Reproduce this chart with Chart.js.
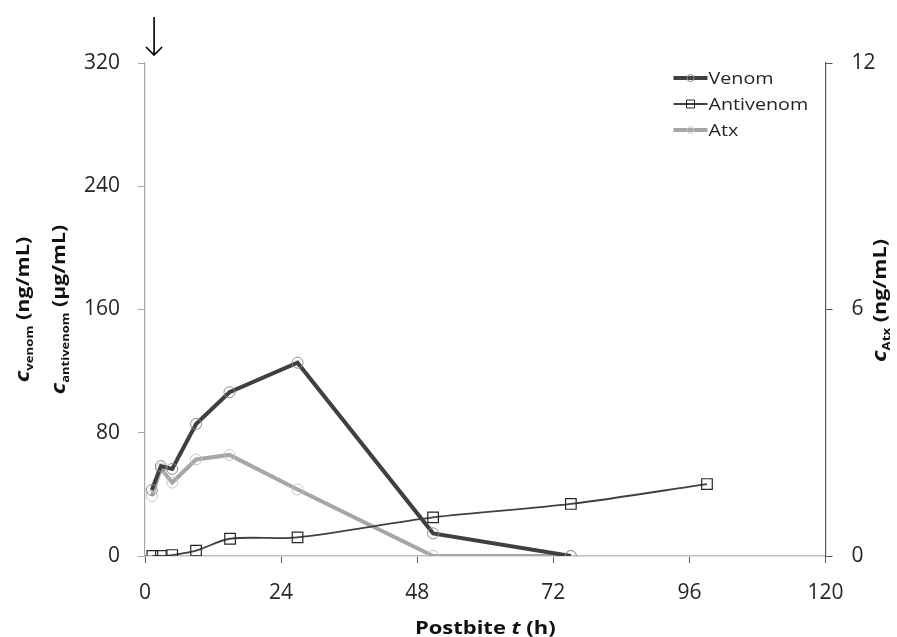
<!DOCTYPE html>
<html>
<head>
<meta charset="utf-8">
<script src="https://cdn.jsdelivr.net/npm/chart.js@4.4.1/dist/chart.umd.min.js"></script>
<style>
  html, body { margin: 0; padding: 0; background: #fff; }
  #wrap { width: 897px; height: 637px; }
</style>
</head>
<body>
<div id="wrap"><canvas id="chart" width="897" height="637"></canvas></div>
<script>
// Venom and Atx were sampled at the same times (h)
const sampleTimes = [1.2, 2.8, 4.8, 9.0, 14.9, 26.9, 50.8, 75.1];
const venomValues = [42.8, 58.4, 56.5, 85.7, 106.3, 125.5, 14.7, 0];
const atxValues = [1.46, 2.13, 1.79, 2.35, 2.46, 1.62, 0, 0];

// Antivenom
const antivenomTimes = [1.3, 2.8, 4.8, 9.0, 15.0, 26.9, 50.8, 75.1, 99.1];
const antivenomValues = [0, 0, 0.6, 3.5, 11.2, 12.1, 25.1, 33.8, 46.7];

// Axis ticks
const xTicks = [0, 24, 48, 72, 96, 120];
const leftTicks = [0, 80, 160, 240, 320];
const rightTicks = [0, 6, 12];

// time of the arrow on top of the chart
const arrowTime = 1.6;

const FONT = '"Open Sans", "Noto Sans", sans-serif';
const TEXT_COLOR = '#262626';

function pairs(xs, ys) {
    return xs.map((x, i) => ({ x: x, y: ys[i] }));
}

// draws text made of parts [text, font, shift] centred on 0, stretched along the text
function drawRich(ctx, parts, stretch) {
    let total = 0;
    parts.forEach(p => { ctx.font = p[1]; total += ctx.measureText(p[0]).width; });
    ctx.scale(stretch, 1);
    let x = -total / 2;
    parts.forEach(p => {
        ctx.font = p[1];
        ctx.fillText(p[0], x, p[2]);
        x += ctx.measureText(p[0]).width;
    });
}

const big = 'bold 18px ' + FONT;
const cFont = 'italic bold 20px ' + FONT;
const sub = 'bold 11px ' + FONT;

const extrasPlugin = {
    id: 'extras',
    afterDraw(chart) {
        const ctx = chart.ctx;
        const area = chart.chartArea;
        const xs = chart.scales.x;
        const midY = (area.top + area.bottom) / 2;
        ctx.save();
        ctx.fillStyle = '#111';
        ctx.textBaseline = 'alphabetic';

        // x title
        ctx.save();
        ctx.translate((area.left + area.right) / 2, chart.height - 3);
        drawRich(ctx, [['Postbite ', big, 0], ['t', 'italic ' + big, 0], [' (h)', big, 0]], 1.22);
        ctx.restore();

        // left titles (two lines)
        ctx.save();
        ctx.translate(29, midY);
        ctx.rotate(-Math.PI / 2);
        drawRich(ctx, [['c', cFont, 0], ['venom', sub, 4], [' (ng/mL)', big, 0]], 1.2);
        ctx.restore();

        ctx.save();
        ctx.translate(65, midY);
        ctx.rotate(-Math.PI / 2);
        drawRich(ctx, [['c', cFont, 0], ['antivenom', sub, 4], [' (\u00b5g/mL)', big, 0]], 1.18);
        ctx.restore();

        // right title
        ctx.save();
        ctx.translate(886, midY - 9);
        ctx.rotate(-Math.PI / 2);
        drawRich(ctx, [['c', cFont, 0], ['Atx', sub, 4], [' (ng/mL)', big, 0]], 1.2);
        ctx.restore();

        // arrow
        const ax = xs.getPixelForValue(arrowTime);
        ctx.strokeStyle = '#000';
        ctx.lineWidth = 1.6;
        ctx.beginPath();
        ctx.moveTo(ax, area.top - 46);
        ctx.lineTo(ax, area.top - 8);
        ctx.moveTo(ax - 8, area.top - 16);
        ctx.lineTo(ax, area.top - 8);
        ctx.lineTo(ax + 8, area.top - 16);
        ctx.stroke();

        // legend
        const lx = area.right - 152;
        let ly = area.top + 15;
        chart.data.datasets.forEach(ds => {
            ctx.strokeStyle = ds.borderColor;
            ctx.lineWidth = ds.borderWidth;
            ctx.beginPath();
            ctx.moveTo(lx, ly);
            ctx.lineTo(lx + 34, ly);
            ctx.stroke();
            ctx.strokeStyle = ds.pointBorderColor;
            ctx.lineWidth = 1;
            ctx.beginPath();
            if (ds.pointStyle === 'rect') {
                ctx.rect(lx + 13, ly - 4, 8, 8);
            } else {
                ctx.arc(lx + 17, ly, 3.5, 0, Math.PI * 2);
            }
            ctx.stroke();
            ctx.save();
            ctx.translate(lx + 35, ly);
            ctx.scale(1.16, 1);
            ctx.fillStyle = TEXT_COLOR;
            ctx.font = '17px ' + FONT;
            ctx.textBaseline = 'middle';
            ctx.fillText(ds.label, 0, 1);
            ctx.restore();
            ly += 26;
        });
        ctx.restore();
    }
};

const tickFont = { family: FONT, size: 21 };

const ctx = document.getElementById('chart').getContext('2d');

const chart = new Chart(ctx, {
    type: 'line',
    data: {
        datasets: [
            {
                label: 'Venom',
                data: pairs(sampleTimes, venomValues),
                yAxisID: 'y',
                borderColor: '#404040',
                borderWidth: 4,
                pointStyle: 'circle',
                pointRadius: 5.5,
                pointBorderColor: '#8c8c8c',
                pointBackgroundColor: 'rgba(0,0,0,0)',
                pointBorderWidth: 1,
                tension: 0
            },
            {
                label: 'Antivenom',
                data: pairs(antivenomTimes, antivenomValues),
                yAxisID: 'y',
                borderColor: '#404040',
                borderWidth: 1.8,
                pointStyle: 'rect',
                pointRadius: 7.5,
                pointBorderColor: '#262626',
                pointBackgroundColor: 'rgba(0,0,0,0)',
                pointBorderWidth: 1.2,
                tension: 0.3
            },
            {
                label: 'Atx',
                data: pairs(sampleTimes, atxValues),
                yAxisID: 'y1',
                borderColor: '#a6a6a6',
                borderWidth: 4,
                pointStyle: 'circle',
                pointRadius: 5.5,
                pointBorderColor: '#c4c4c4',
                pointBackgroundColor: 'rgba(0,0,0,0)',
                pointBorderWidth: 1,
                tension: 0
            }
        ]
    },
    options: {
        responsive: false,
        devicePixelRatio: 1,
        animation: false,
        layout: { padding: { top: 63, left: 0, right: 0, bottom: 0 } },
        plugins: {
            legend: { display: false },
            tooltip: { enabled: false }
        },
        scales: {
            x: {
                type: 'linear',
                min: 0,
                max: 120,
                afterBuildTicks: s => { s.ticks = xTicks.map(v => ({ value: v })); },
                afterFit: s => { s.height = 81; },
                ticks: { font: tickFont, color: TEXT_COLOR, padding: 17, maxRotation: 0 },
                grid: { display: true, drawOnChartArea: false, drawTicks: true, tickLength: 7, tickColor: '#595959' },
                border: { display: true, color: '#bfbfbf', width: 1.5 }
            },
            y: {
                position: 'left',
                min: 0,
                max: 320,
                afterBuildTicks: s => { s.ticks = leftTicks.map(v => ({ value: v })); },
                afterFit: s => { s.width = 145; },
                ticks: { font: tickFont, color: TEXT_COLOR, padding: 18 },
                grid: { display: true, drawOnChartArea: false, drawTicks: true, tickLength: 7, tickColor: '#a6a6a6' },
                border: { display: true, color: '#a6a6a6', width: 1.2 }
            },
            y1: {
                position: 'right',
                min: 0,
                max: 12,
                afterBuildTicks: s => { s.ticks = rightTicks.map(v => ({ value: v })); },
                afterFit: s => { s.width = 71.5; },
                ticks: { font: tickFont, color: TEXT_COLOR, padding: 19 },
                grid: { display: true, drawOnChartArea: false, drawTicks: true, tickLength: 7, tickColor: '#595959' },
                border: { display: true, color: '#595959', width: 1.2 }
            }
        }
    },
    plugins: [extrasPlugin]
});
</script>
</body>
</html>
